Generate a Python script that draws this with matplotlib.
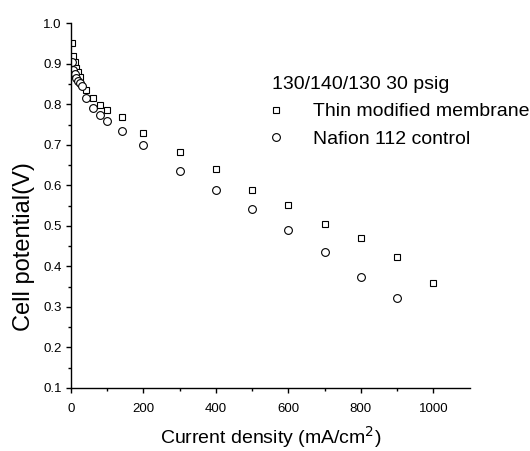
import matplotlib
matplotlib.use('Agg')
import matplotlib.pyplot as plt

plt.rcParams['font.family'] = ['Liberation Sans', 'DejaVu Sans']

# thin modified membrane (squares)
thin_x = [2, 5, 10, 15, 20, 25, 40, 60, 80, 100, 140, 200, 300, 400, 500, 600, 700, 800, 900, 1000]
thin_v = [0.951, 0.920, 0.905, 0.890, 0.880, 0.868, 0.835, 0.817, 0.798, 0.787, 0.769, 0.730,
          0.683, 0.640, 0.590, 0.551, 0.506, 0.470, 0.424, 0.360]

# Nafion 112 control (circles)
naf_x = [2, 5, 10, 15, 20, 25, 30, 40, 60, 80, 100, 140, 200, 300, 400, 500, 600, 700, 800, 900]
naf_v = [0.905, 0.885, 0.875, 0.865, 0.858, 0.852, 0.845, 0.817, 0.792, 0.775, 0.759, 0.735,
         0.700, 0.636, 0.590, 0.541, 0.490, 0.435, 0.375, 0.323]

labels = ['Thin modified membrane', 'Nafion 112 control']
legend_title = '130/140/130 30 psig'

fig = plt.figure(figsize=(5.3, 4.51), dpi=100)
ax = fig.add_axes([0.134, 0.1397, 0.752, 0.8083])

ax.plot(thin_x, thin_v, ls='none', marker='s', ms=4.8, mfc='white', mec='black', mew=0.8,
        label=labels[0])
ax.plot(naf_x, naf_v, ls='none', marker='o', ms=5.6, mfc='white', mec='black', mew=0.8,
        label=labels[1])

ax.set_xlim(0, 1100)
ax.set_ylim(0.1, 1.0)
ax.set_xticks([0, 200, 400, 600, 800, 1000])
ax.set_xticks(range(100, 1100, 200), minor=True)
ax.set_yticks([0.1 * i for i in range(1, 11)])
ax.set_yticklabels(['%.1f' % (0.1 * i) for i in range(1, 11)])
ax.set_yticks([0.05 + 0.1 * i for i in range(1, 9)], minor=True)

for s in ['top', 'right']:
    ax.spines[s].set_visible(False)
for s in ['left', 'bottom']:
    ax.spines[s].set_linewidth(1.0)

ax.tick_params(which='major', direction='out', length=3.6, width=1.0, labelsize=9.5, pad=3)
ax.tick_params(which='minor', direction='out', length=2.4, width=1.0)
ax.tick_params(axis='x', which='major', pad=7)

ax.set_xlabel('Current density (mA/cm$^2$)', fontsize=14)
ax.set_ylabel('Cell potential(V)', fontsize=17)
ax.xaxis.set_label_coords(0.5, -0.1)
ax.yaxis.set_label_coords(-0.09, 0.387)

leg = ax.legend(title=legend_title, loc='upper left', bbox_to_anchor=(271.7 / 530, (451 - 76) / 451),
                bbox_transform=fig.transFigure, frameon=False, fontsize=14, title_fontsize=14,
                alignment='left', numpoints=1, handlelength=0.4, handletextpad=1.73,
                labelspacing=0.5, borderpad=0, borderaxespad=0)

fig.savefig('out.png', dpi=100)
